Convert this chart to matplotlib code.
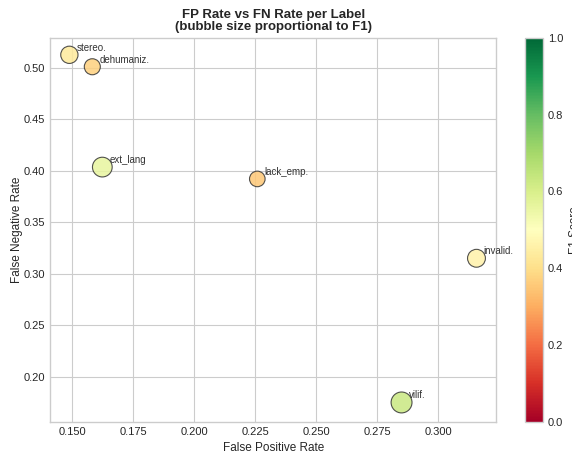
import matplotlib
matplotlib.use("Agg")
import matplotlib.pyplot as plt
import numpy as np
from matplotlib.cm import ScalarMappable
from matplotlib.colors import Normalize

labels = ["stereo.", "dehumaniz.", "ext_lang", "lack_emp.", "invalid.", "vilif."]
fp_rate = [0.1488, 0.1582, 0.1623, 0.2258, 0.3156, 0.2849]
fn_rate = [0.5126, 0.5010, 0.4035, 0.3920, 0.3149, 0.1748]
f1 = [0.43, 0.37, 0.56, 0.35, 0.46, 0.63]

plt.style.use("seaborn-v0_8-whitegrid")
plt.rcParams["font.family"] = ["Liberation Sans", "DejaVu Sans"]

fig = plt.figure(figsize=(5.72, 4.57), dpi=100)
ax = fig.add_axes([0.088, 0.077, 0.78, 0.84])
cax = fig.add_axes([0.918, 0.077, 0.031, 0.84])

norm = Normalize(vmin=0, vmax=1)
sizes = np.array(f1) * 360
ax.scatter(fp_rate, fn_rate, s=sizes, c=f1, cmap="RdYlGn", norm=norm,
           edgecolors="#333333", linewidths=0.8, alpha=0.85, zorder=3)

for lab, x, y in zip(labels, fp_rate, fn_rate):
    ax.annotate(lab, (x, y), xytext=(5, 3), textcoords="offset points",
                fontsize=7, color="#333333")

ax.set_xlim(0.141, 0.3238)
ax.set_ylim(0.156, 0.529)
ax.set_xticks([0.150, 0.175, 0.200, 0.225, 0.250, 0.275, 0.300])
ax.set_xticklabels(["0.150", "0.175", "0.200", "0.225", "0.250", "0.275", "0.300"])
ax.tick_params(labelsize=8)
ax.set_xlabel("False Positive Rate", fontsize=8.5)
ax.set_ylabel("False Negative Rate", fontsize=8.5, labelpad=1)
ax.set_title("FP Rate vs FN Rate per Label\n(bubble size proportional to F1)",
             fontsize=9.5, fontweight="bold", linespacing=1.0)

sm = ScalarMappable(norm=norm, cmap="RdYlGn")
cb = fig.colorbar(sm, cax=cax)
cb.ax.tick_params(labelsize=8)
cb.set_label("F1 Score", fontsize=8.5)
cb.outline.set_edgecolor("#cccccc")

fig.savefig("out.png", dpi=100)
